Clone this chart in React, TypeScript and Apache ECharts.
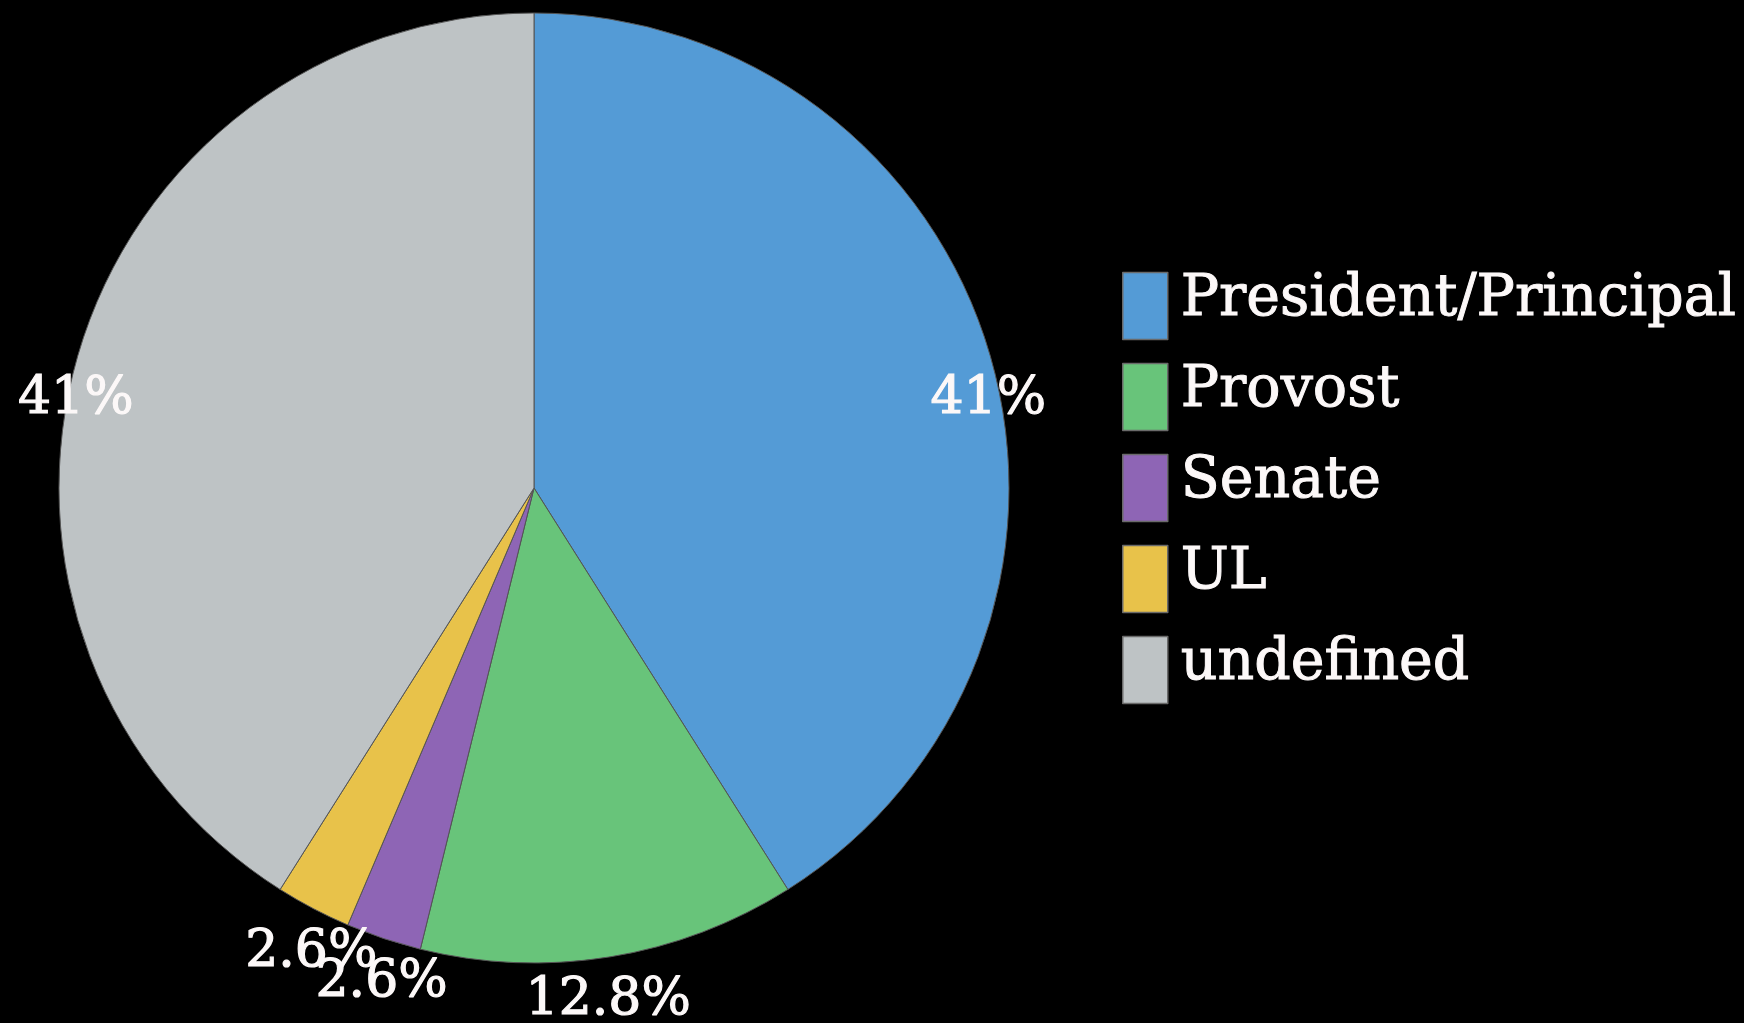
import React, { useEffect, useRef } from "react";
import * as echarts from "echarts";

const categories = ["President/Principal", "Provost", "Senate", "UL", "undefined"];
const counts = [16, 5, 1, 1, 16];
const colors = ["#549BD6", "#68C47A", "#8E65B5", "#E8C24A", "#BEC3C5"];

const FONT = "DejaVu Serif";
const TEXT = "#fcf8f8";

export default function App() {
  const ref = useRef<HTMLDivElement>(null);
  useEffect(() => {
    document.body.style.margin = "0";
    document.body.style.background = "#000";
    const chart = echarts.init(ref.current!, null, { renderer: "svg" });
    const data = categories.map((name, i) => ({
      name,
      value: counts[i],
      itemStyle: { color: colors[i] },
    }));
    const fmt = (p: any) => `${Math.round(p.percent * 10) / 10}%`;
    chart.setOption({
      animation: false,
      backgroundColor: "#000",
      legend: {
        orient: "vertical",
        left: 1117,
        top: 261,
        itemWidth: 45,
        itemHeight: 67,
        itemGap: 11.5,
        icon: "rect",
        data: categories,
        itemStyle: { borderColor: "#6a6a6a", borderWidth: 1.5 },
        formatter: "{a|{name}}",
        textStyle: {
          color: TEXT,
          fontFamily: FONT,
          fontSize: 57,
          rich: {
            a: {
              color: TEXT,
              fontFamily: FONT,
              fontSize: 57,
              lineHeight: 57,
              padding: [0, 0, 22, 8],
              textBorderColor: TEXT,
              textBorderWidth: 1,
            },
          },
        },
        selectedMode: false,
      },
      series: [
        {
          type: "pie",
          center: [534, 488],
          radius: 475,
          startAngle: 90,
          clockwise: true,
          silent: true,
          label: { show: false },
          labelLine: { show: false },
          itemStyle: { borderColor: "#555", borderWidth: 1 },
          emphasis: { disabled: true },
          data,
        },
        {
          type: "pie",
          center: [532, 527],
          radius: 944,
          startAngle: 90,
          clockwise: true,
          silent: true,
          avoidLabelOverlap: false,
          labelLayout: { hideOverlap: false },
          itemStyle: { color: "rgba(0,0,0,0)", borderWidth: 0 },
          label: {
            show: true,
            position: "inside",
            formatter: fmt,
            color: TEXT,
            fontFamily: FONT,
            fontSize: 52,
            fontWeight: "normal",
            textBorderColor: TEXT,
            textBorderWidth: 1.2,
          },
          labelLine: { show: false },
          emphasis: { disabled: true },
          data: categories.map((name, i) => ({ name, value: counts[i] })),
        },
      ],
    });
    return () => chart.dispose();
  }, []);
  return <div ref={ref} style={{ width: 1744, height: 1023 }} />;
}
